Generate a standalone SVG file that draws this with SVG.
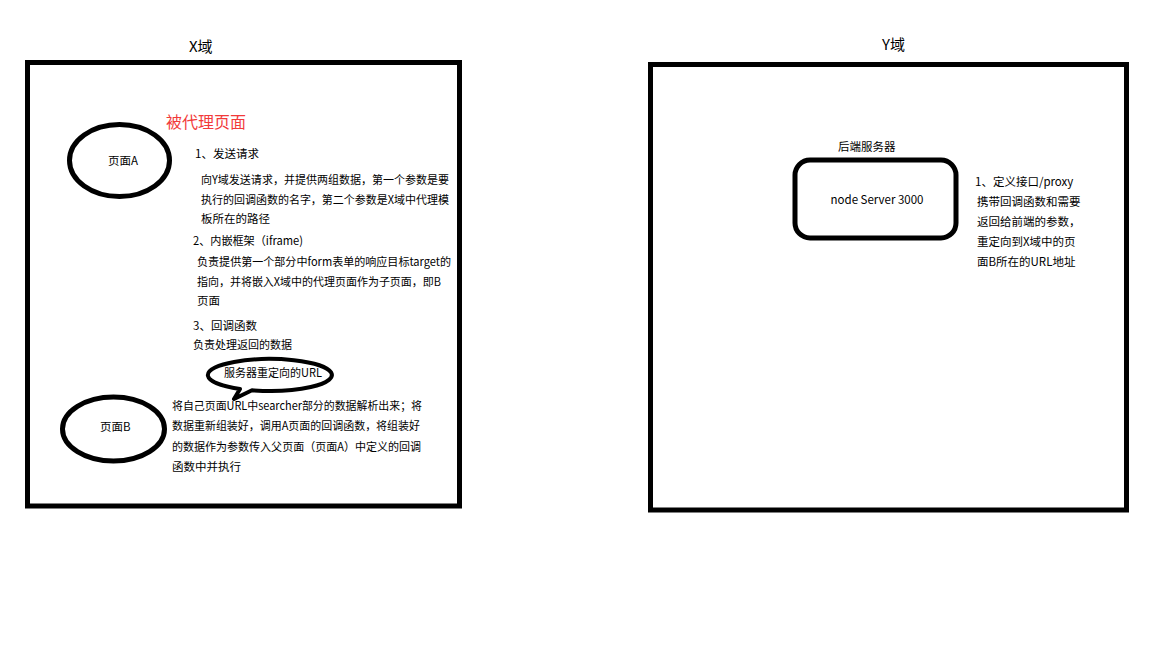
<svg xmlns="http://www.w3.org/2000/svg" width="1152" height="648" viewBox="0 0 1152 648">
<style>
.t{font-family:"Noto Sans CJK SC","Liberation Sans",sans-serif;font-size:11.5px;fill:#000}
.h{font-family:"Noto Sans CJK SC","Liberation Sans",sans-serif;font-size:15px;fill:#000}
.box{fill:none;stroke:#000;stroke-width:5}
.ell{fill:none;stroke:#000;stroke-width:5}
</style>
<rect width="1152" height="648" fill="#fff"/>
<g id="x-domain">
<text class="h" x="189" y="52">X域</text>
<rect class="box" x="27.5" y="62.5" width="432" height="443.5"/>
<text x="166" y="128" font-family="Noto Sans CJK SC,Liberation Sans,sans-serif" font-size="16" fill="#f23a3a">被代理页面</text>
</g>
<g id="page-a">
<ellipse class="ell" cx="119.5" cy="160.5" rx="50" ry="36"/>
<text class="t" x="108" y="165">页面A</text>
</g>
<g id="page-a-notes">
<text class="t" x="195" y="158">1、发送请求</text>
<text class="t" x="201" y="184" textLength="248" lengthAdjust="spacingAndGlyphs">向Y域发送请求，并提供两组数据，第一个参数是要</text>
<text class="t" x="201" y="204" textLength="248" lengthAdjust="spacingAndGlyphs">执行的回调函数的名字，第二个参数是X域中代理模</text>
<text class="t" x="201" y="223">板所在的路径</text>
<text class="t" x="193" y="245" textLength="110" lengthAdjust="spacingAndGlyphs">2、内嵌框架（iframe)</text>
<text class="t" x="197" y="266" textLength="254" lengthAdjust="spacingAndGlyphs">负责提供第一个部分中form表单的响应目标target的</text>
<text class="t" x="197" y="286" textLength="244" lengthAdjust="spacingAndGlyphs">指向，并将嵌入X域中的代理页面作为子页面，即B</text>
<text class="t" x="197" y="305">页面</text>
<text class="t" x="193" y="330">3、回调函数</text>
<text class="t" x="193" y="349" textLength="99" lengthAdjust="spacingAndGlyphs">负责处理返回的数据</text>
</g>
<g id="url-bubble">
<path d="M240 389 L234 399 L252 390.3 A62 16 0 1 0 240 389 Z" fill="#fff" stroke="#000" stroke-width="4" stroke-linejoin="round"/>
<text class="t" x="224" y="377" textLength="98" lengthAdjust="spacingAndGlyphs">服务器重定向的URL</text>
</g>
<g id="page-b">
<ellipse class="ell" cx="113.5" cy="429" rx="51" ry="32"/>
<text class="t" x="100" y="431">页面B</text>
</g>
<g id="page-b-notes">
<text class="t" x="172" y="410" textLength="250" lengthAdjust="spacingAndGlyphs">将自己页面URL中searcher部分的数据解析出来；将</text>
<text class="t" x="172" y="430" textLength="248" lengthAdjust="spacingAndGlyphs">数据重新组装好，调用A页面的回调函数，将组装好</text>
<text class="t" x="172" y="451" textLength="249" lengthAdjust="spacingAndGlyphs">的数据作为参数传入父页面（页面A）中定义的回调</text>
<text class="t" x="172" y="471">函数中并执行</text>
</g>
<g id="y-domain">
<text class="h" x="882" y="50">Y域</text>
<rect class="box" x="650.5" y="64.5" width="476" height="445.5"/>
</g>
<g id="node-server">
<text class="t" x="838" y="151">后端服务器</text>
<rect class="box" x="795" y="160" width="161" height="78" rx="15" ry="15"/>
<text class="t" x="877" y="204" text-anchor="middle">node Server 3000</text>
</g>
<g id="server-notes">
<text class="t" x="975" y="186">1、定义接口/proxy</text>
<text class="t" x="977" y="206">携带回调函数和需要</text>
<text class="t" x="977" y="226">返回给前端的参数，</text>
<text class="t" x="977" y="246">重定向到X域中的页</text>
<text class="t" x="977" y="266">面B所在的URL地址</text>
</g>
<g id="connectors"></g>
</svg>
